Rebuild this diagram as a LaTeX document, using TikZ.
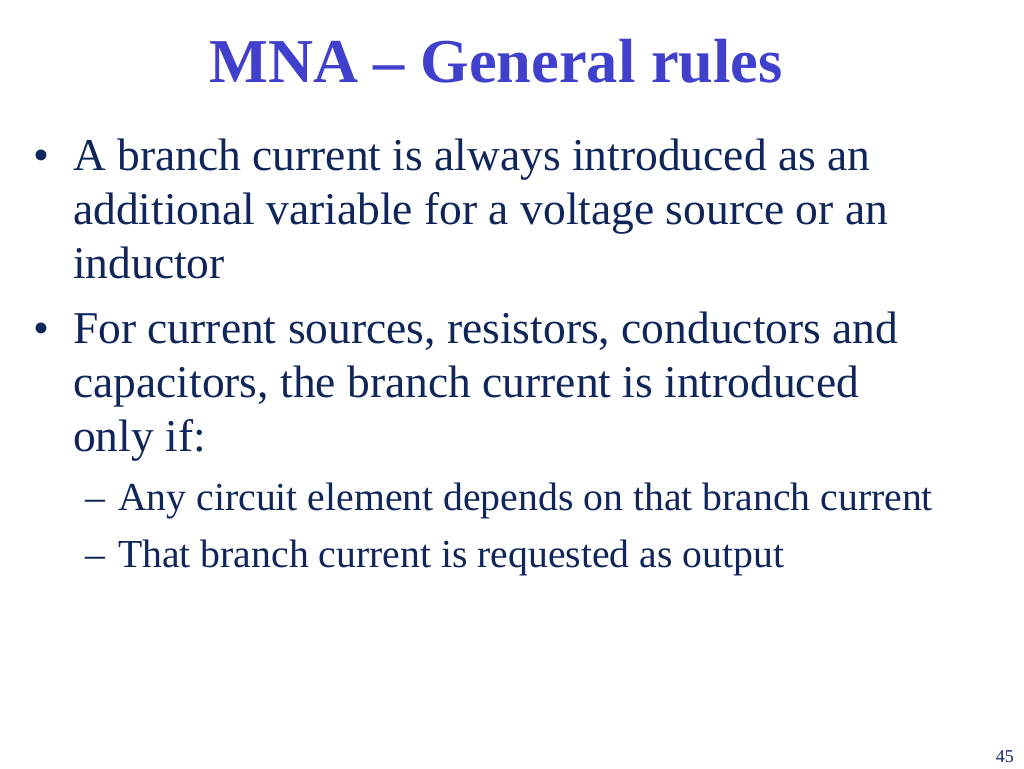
\documentclass[tikz,border=0pt]{standalone}
\usepackage{fontspec}
\setmainfont{Liberation Serif}
\definecolor{titleblue}{RGB}{64,64,204}
\definecolor{navy}{RGB}{16,38,90}
\begin{document}
\begin{tikzpicture}[x=1pt,y=-1pt,
  body/.style={anchor=base west,inner sep=0pt,text=navy,font=\fontsize{45.5}{54}\selectfont},
  sub/.style={anchor=base west,inner sep=0pt,text=navy,font=\fontsize{39.7}{46}\selectfont}]
\useasboundingbox[fill=white] (0,0) rectangle (1024,768);
\node[anchor=base,inner sep=0pt,text=titleblue,font=\fontsize{62.4}{72}\selectfont\bfseries] (title) at (496,82) {MNA -- General rules};
\node[body] (b1) at (33,170) {•};
\node[body] (l1) at (73,170) {A branch current is always introduced as an};
\node[body] (l2) at (73,224) {additional variable for a voltage source or an};
\node[body] (l3) at (73,278) {inductor};
\node[body] (b2) at (33,343) {•};
\node[body] (l4) at (73,343) {For current sources, resistors, conductors and};
\node[body] (l5) at (73,397) {capacitors, the branch current is introduced};
\node[body] (l6) at (73,451) {only if:};
\node[sub] (d1) at (85,510) {--};
\node[sub] (s1) at (118,510) {Any circuit element depends on that branch current};
\node[sub] (d2) at (85,567) {--};
\node[sub] (s2) at (118,567) {That branch current is requested as output};
\node[anchor=base east,inner sep=0pt,text=navy,font=\fontsize{18}{20}\selectfont] (pg) at (1014,762) {45};
\end{tikzpicture}
\end{document}
